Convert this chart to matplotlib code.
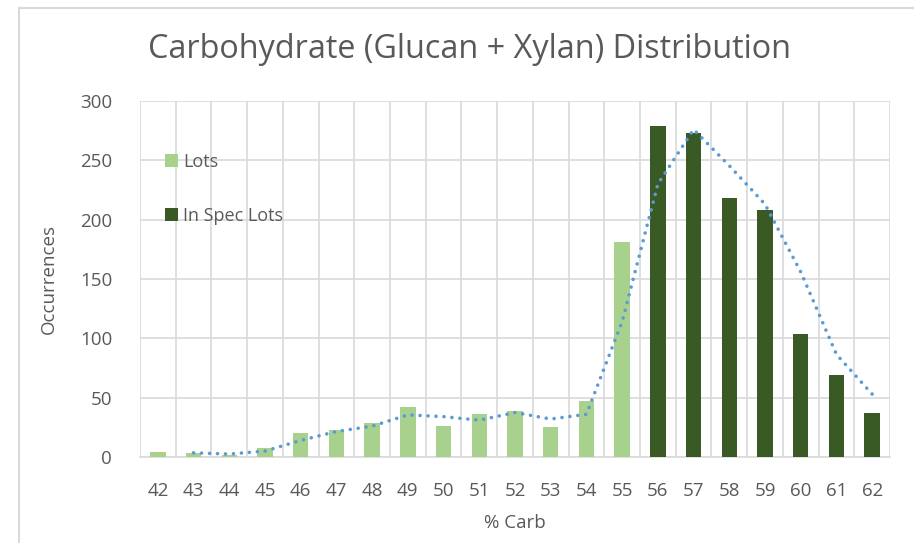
import matplotlib
matplotlib.use("Agg")
import matplotlib.pyplot as plt
import numpy as np
from matplotlib.patches import Rectangle

categories = [str(c) for c in range(42, 63)]
lots = [4, 3, 2, 8, 20, 23, 29, 42, 26, 36, 39, 25, 47, 181]
in_spec = [279, 273, 218, 208, 104, 69, 37]
y_ticks = [0, 50, 100, 150, 200, 250, 300]

W, H = 914, 543
fig = plt.figure(figsize=(W / 100, H / 100), dpi=100)
plt.rcParams['font.family'] = ['Open Sans', 'DejaVu Sans']
txt = '#595959'
grid = '#d9d9d9'

# chart frame
fig.patches.append(Rectangle((19 / W, -0.1), 1.2, 1 - 8 / H + 0.1, transform=fig.transFigure,
                             fill=False, edgecolor='#d9d9d9', lw=1.5))

ax = fig.add_axes([140 / W, (H - 457) / H, 750 / W, 356 / H])
x = np.arange(len(categories))
n_lots = len(lots)
bw = 0.43
ax.bar(x[:n_lots], lots, width=bw, color='#a9d18e', label='Lots', zorder=3)
ax.bar(x[n_lots:], in_spec, width=bw, color='#3a5a25', label='In Spec Lots', zorder=3)

allv = np.array(lots + in_spec, dtype=float)
ma = (allv[1:] + allv[:-1]) / 2
ax.plot(x[1:], ma, color='#5b9bd5', lw=2.6, linestyle=(0, (0.01, 2.2)),
        dash_capstyle='round', zorder=4)

ax.set_xlim(-0.5, len(categories) - 0.5)
ax.set_ylim(0, 300)
ax.set_yticks(y_ticks)
ax.set_xticks(x)
ax.set_xticklabels(categories)
ax.set_xticks(np.arange(len(categories) + 1) - 0.5, minor=True)
ax.grid(axis='y', which='major', color=grid, lw=1.2, zorder=0)
ax.grid(axis='x', which='minor', color=grid, lw=1.2, zorder=0)
ax.tick_params(which='both', length=0)
ax.tick_params(axis='both', labelsize=13.5, labelcolor=txt)
ax.tick_params(axis='x', pad=18)
ax.tick_params(axis='y', pad=20)
for s in ['top', 'right', 'left']:
    ax.spines[s].set_visible(False)
ax.spines['bottom'].set_color(grid)
ax.spines['bottom'].set_linewidth(1.2)

ax.set_xlabel('% Carb', fontsize=13.5, color=txt, labelpad=10)
ax.set_ylabel('Occurrences', fontsize=13.5, color=txt, labelpad=16)
fig.text(470 / W, 1 - 50 / H, 'Carbohydrate (Glucan + Xylan) Distribution', ha='center', va='center',
         fontsize=23.3, color=txt)

leg = ax.legend(loc='upper left', bbox_to_anchor=(0.012, 0.90), frameon=False, fontsize=13,
                labelcolor=txt, handlelength=0.7, handleheight=0.7, handletextpad=0.3,
                labelspacing=2.0)

fig.savefig('out.png', dpi=100)
